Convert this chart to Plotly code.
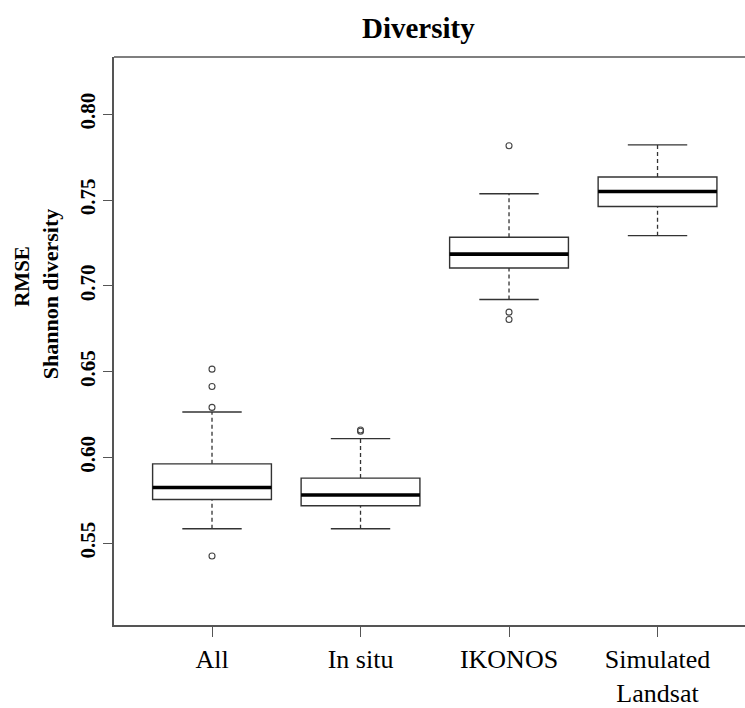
import plotly.graph_objects as go

# ---- data ----
categories = ["All", "In situ", "IKONOS", "Simulated<br>Landsat"]
q1_vals = [0.5755, 0.5719, 0.7104, 0.7463]
median_vals = [0.5825, 0.5782, 0.7185, 0.7550]
q3_vals = [0.5963, 0.5880, 0.7284, 0.7635]
lower_whisker = [0.5585, 0.5585, 0.6921, 0.7293]
upper_whisker = [0.6265, 0.6110, 0.7537, 0.7822]
outliers = [
    [0.6515, 0.6414, 0.6292, 0.5426],
    [0.6160, 0.6153],
    [0.7817, 0.6847, 0.6804],
    [],
]
y_ticks = [0.55, 0.60, 0.65, 0.70, 0.75, 0.80]

BOX_W = 0.8
CAP_W = 0.4
LINE_C = "#333333"
AXIS_C = "#555555"
SERIF = "Liberation Serif, Times New Roman, serif"

fig = go.Figure()
positions = list(range(1, len(categories) + 1))

for i, pos in enumerate(positions):
    # box (no whiskers: fences at the quartiles)
    fig.add_trace(go.Box(
        x=[pos], q1=[q1_vals[i]], median=[median_vals[i]], q3=[q3_vals[i]],
        lowerfence=[q1_vals[i]], upperfence=[q3_vals[i]],
        width=BOX_W, fillcolor="white",
        line=dict(color=LINE_C, width=1.4),
        boxpoints=False, showlegend=False, hoverinfo="skip",
    ))
    # dashed whiskers
    fig.add_trace(go.Scatter(
        x=[pos, pos, None, pos, pos],
        y=[q3_vals[i], upper_whisker[i], None, lower_whisker[i], q1_vals[i]],
        mode="lines", line=dict(color=LINE_C, width=1.3, dash="4px,3px"),
        showlegend=False, hoverinfo="skip",
    ))
    # whisker caps
    fig.add_trace(go.Scatter(
        x=[pos - CAP_W / 2, pos + CAP_W / 2, None, pos - CAP_W / 2, pos + CAP_W / 2],
        y=[upper_whisker[i], upper_whisker[i], None, lower_whisker[i], lower_whisker[i]],
        mode="lines", line=dict(color=LINE_C, width=1.4),
        showlegend=False, hoverinfo="skip",
    ))
    # thick median
    fig.add_trace(go.Scatter(
        x=[pos - BOX_W / 2, pos + BOX_W / 2],
        y=[median_vals[i], median_vals[i]],
        mode="lines", line=dict(color="black", width=3.6),
        showlegend=False, hoverinfo="skip",
    ))
    # outliers
    if outliers[i]:
        fig.add_trace(go.Scatter(
            x=[pos] * len(outliers[i]), y=outliers[i], mode="markers",
            marker=dict(symbol="circle-open", size=6, color="#444444",
                        line=dict(width=1.1, color="#444444")),
            showlegend=False, hoverinfo="skip",
        ))

fig.update_layout(
    width=745, height=708,
    margin=dict(l=114, r=0, t=57, b=67),
    paper_bgcolor="white", plot_bgcolor="white",
    font=dict(family=SERIF, color="black"),
    xaxis=dict(
        range=[0.34, 4.589], tickmode="array", tickvals=positions, ticktext=categories,
        showgrid=False, zeroline=False, showline=True, linecolor=AXIS_C, linewidth=1.5,
        ticks="outside", ticklen=10, tickcolor=AXIS_C, tickwidth=1.3,
        tickfont=dict(family=SERIF, size=26, color="black"),
    ),
    yaxis=dict(
        range=[0.5024, 0.8334], tickmode="array", tickvals=y_ticks,
        ticktext=[f"{v:.2f}" for v in y_ticks], tickangle=-90,
        showgrid=False, zeroline=False, showline=True, linecolor=AXIS_C, linewidth=1.5,
        ticks="outside", ticklen=9, tickcolor=AXIS_C, tickwidth=1.3,
        tickfont=dict(family=SERIF, size=21, color="black", weight="bold"),
    ),
    shapes=[dict(type="line", xref="paper", yref="paper", x0=0, x1=1, y0=1, y1=1,
                 line=dict(color=AXIS_C, width=1.5))],
    annotations=[
        dict(text="<b>Diversity</b>", xref="paper", yref="paper",
             x=(418.5 - 114) / 631, y=1 + 30 / 584, xanchor="center", yanchor="middle",
             showarrow=False, font=dict(family=SERIF, size=29, color="black")),
        dict(text="<b>RMSE</b>", xref="paper", yref="paper", textangle=-90,
             x=-(114 - 22) / 631, y=(641 - 283) / 584, xanchor="center", yanchor="middle",
             showarrow=False, font=dict(family=SERIF, size=21, color="black")),
        dict(text="<b>Shannon diversity</b>", xref="paper", yref="paper", textangle=-90,
             x=-(114 - 50) / 631, y=(641 - 301) / 584, xanchor="center", yanchor="middle",
             showarrow=False, font=dict(family=SERIF, size=22, color="black")),
    ],
)

fig.write_html("out.html")
